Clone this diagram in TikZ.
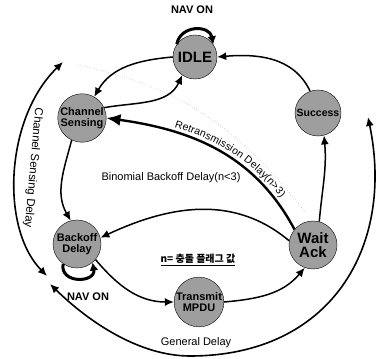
\documentclass[tikz,border=0pt]{standalone}
\usepackage{fontspec}
\setmainfont{Liberation Sans}
\newfontfamily\krfont{Noto Sans CJK KR}
\usetikzlibrary{arrows.meta,positioning,calc,decorations.text}
\tikzset{
  state/.style   = {draw, thin, circle, fill=black!38, inner sep=0pt,
                    minimum size=46pt, align=center,
                    font=\bfseries\fontsize{11}{11.5}\selectfont},
  sig/.style     = {-{Latex[length=9pt,width=8pt]}, line width=1.5pt},
  bigsig/.style  = {-{Latex[length=14pt,width=12pt]}, line width=2.4pt},
  navloop/.style = {-{Latex[length=8pt,width=9pt]}, line width=3pt},
  outer/.style   = {{Latex[length=9pt,width=8pt]}-{Latex[length=9pt,width=8pt]},
                    line width=1.6pt},
  lbl/.style     = {font=\fontsize{11}{11}\selectfont},
  navlbl/.style  = {font=\bfseries\fontsize{11}{11}\selectfont},
}

\begin{document}
\begin{tikzpicture}[x=1pt,y=1pt]
\useasboundingbox (0,0) rectangle (379,358);
% ---- states ----
\node[state, minimum size=44pt, font=\bfseries\fontsize{15}{15}\selectfont] (idle) at (195,301) {IDLE};
\node[state] (cs) at (82,240) {Channel\\Sensing};
\node[state, font=\bfseries\fontsize{10.5}{11}\selectfont] (succ) at (318,245) {Success};
\node[state, minimum size=48pt] (back) at (77,114) {Backoff\\Delay};
\node[state, minimum size=48pt, font=\bfseries\fontsize{15}{14}\selectfont] (wait) at (313,113) {Wait\\Ack};
\node[state] (tx) at (199,56) {Transmit\\MPDU};
% ---- transitions ----
\draw[sig] (idle.west) to[out=185,in=60] (cs.60);
\draw[sig] (cs.25) to[out=10,in=245] (idle.235);
\draw[sig] (succ.110) to[out=115,in=5] (idle.east);
\draw[sig] (wait.75) to[out=85,in=-85] (succ.-75);
\draw[sig] (cs.245) to[out=255,in=120] (back.105);
\draw[bigsig] (wait.140) to[out=118,in=-8] (cs.east);
\path[decorate, decoration={text along path, raise=5pt,
    text align={left, left indent=68pt},
    text={|\fontsize{10.5}{10.5}\selectfont|Retransmission Delay(n>3)}}]
  (cs.east) to[out=-8,in=118] (wait.140);
\draw[sig] (wait.170) to[out=140,in=25] (back.15);
\draw[sig] (back.-40) to[out=-50,in=180] (tx.west);
\draw[sig] (tx.east) to[out=5,in=230] (wait.250);
% ---- NAV loops ----
\draw[navloop] (idle.145) to[out=80,in=100,looseness=1.4] (idle.35);
\node[navlbl] (navtop) at (192,348) {NAV ON};
\draw[navloop] (back.-125) to[out=-100,in=-80,looseness=1.8] (back.-50);
\node[navlbl] (navbot) at (88,61) {NAV ON};
% ---- outer delays ----
\coordinate (csd0) at (47,82);
\coordinate (csd1) at (63,296);
\draw[outer] (csd0) .. controls (0,130) and (5,240) .. (csd1);
\node[lbl, font=\fontsize{11.5}{11.5}\selectfont, rotate=-95] (csdlbl) at (33,190) {Channel Sensing Delay};
\coordinate (gd0) at (50,74);
\coordinate (gdb) at (190,2);
\coordinate (gd1) at (368,241);
\draw[outer] (gd0) .. controls (90,35) and (140,2) .. (gdb)
  .. controls (330,2) and (395,110) .. (gd1);
\node[lbl] (gdlbl) at (196,15) {General Delay};
% ---- retransmission dots ----
\coordinate (rd0) at (78,293);
\coordinate (rd1) at (305,146);
\draw[dotted, gray, thin] (rd0) to[out=-12,in=128] (rd1);
\node[lbl] (bblbl) at (171,180) {Binomial Backoff Delay(n<3)};
\node[font=\krfont\bfseries\fontsize{10}{10}\selectfont] (nlbl) at (198,98) {\underline{n= 충돌 플래그 값}};
\end{tikzpicture}
\end{document}
